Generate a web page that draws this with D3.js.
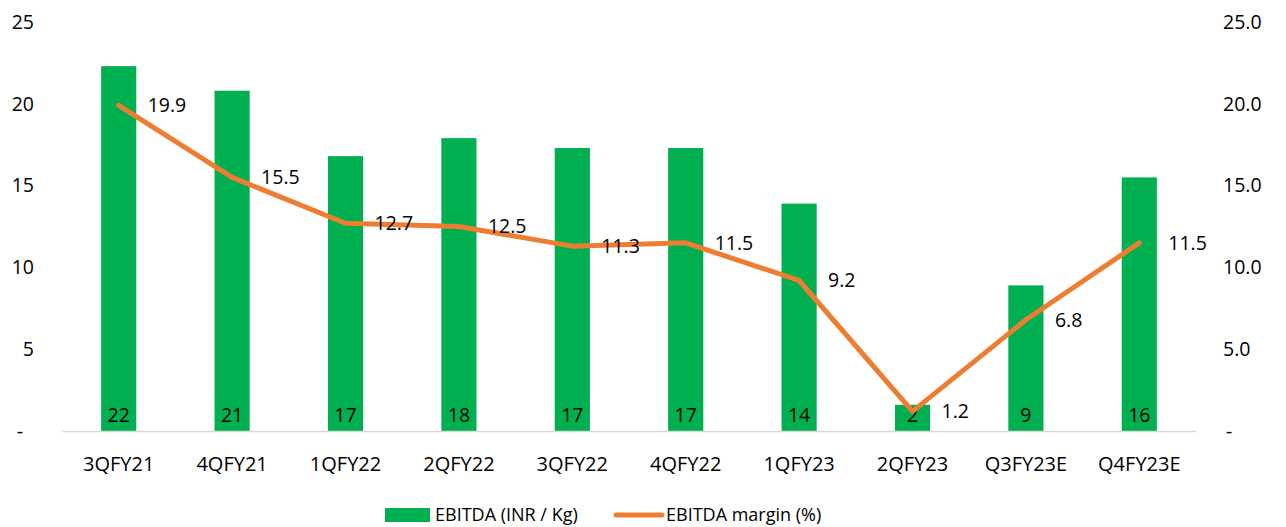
<!DOCTYPE html>
<html>
<head>
<meta charset="utf-8">
<script src="https://cdn.jsdelivr.net/npm/d3@7"></script>
<style>
  body { margin: 0; background: #fff; }
  text { font-family: "Open Sans", "Noto Sans", sans-serif; fill: #000; }
</style>
</head>
<body>
<div id="chart"></div>
<script>
const quarters = ["3QFY21", "4QFY21", "1QFY22", "2QFY22", "3QFY22", "4QFY22", "1QFY23", "2QFY23", "Q3FY23E", "Q4FY23E"];
const ebitda = [22.3, 20.8, 16.8, 17.9, 17.3, 17.3, 13.9, 1.6, 8.9, 15.5];
const margin = [19.9, 15.5, 12.7, 12.5, 11.3, 11.5, 9.2, 1.2, 6.8, 11.5];
const leftTicks = [0, 5, 10, 15, 20, 25];
const rightTicks = [0, 5, 10, 15, 20, 25];

const width = 1286, height = 527;
const plot = { left: 62, right: 1196, top: 22, bottom: 431 };
const fs = "19.5px";

const svg = d3.select("#chart").append("svg")
  .attr("width", width).attr("height", height);

// scales
const x = d3.scaleBand().domain(quarters).range([plot.left, plot.right]).paddingInner(0).paddingOuter(0);
const yL = d3.scaleLinear().domain([0, 25]).range([plot.bottom, plot.top]);
const yR = d3.scaleLinear().domain([0, 25]).range([plot.bottom, plot.top]);
const barW = x.bandwidth() * 0.31;
const cx = q => x(q) + x.bandwidth() / 2;

// left axis
const axL = svg.append("g").attr("transform", `translate(34,0)`)
  .call(d3.axisLeft(yL).tickValues(leftTicks).tickSize(0).tickPadding(0)
    .tickFormat(d => d === 0 ? "-" : d3.format("d")(d)));
axL.select(".domain").remove();
axL.selectAll("text").style("font-size", fs)
  .attr("dx", d => d === 0 ? -11 : 0);

// right axis
const axR = svg.append("g").attr("transform", `translate(1223,0)`)
  .call(d3.axisRight(yR).tickValues(rightTicks).tickSize(0).tickPadding(0)
    .tickFormat(d => d === 0 ? "-" : d3.format(".1f")(d)));
axR.select(".domain").remove();
axR.selectAll("text").style("font-size", fs)
  .attr("dx", d => d === 0 ? 3 : 0);

// bars
svg.append("g").selectAll("rect")
  .data(quarters.map((q, i) => ({ q, v: ebitda[i] })))
  .join("rect")
  .attr("x", d => cx(d.q) - barW / 2)
  .attr("y", d => yL(d.v))
  .attr("width", barW)
  .attr("height", d => yL(0) - yL(d.v))
  .attr("fill", "#00B050");

// baseline
svg.append("line")
  .attr("x1", plot.left).attr("x2", plot.right)
  .attr("y1", yL(0) + 0.5).attr("y2", yL(0) + 0.5)
  .attr("stroke", "#d9d9d9").attr("stroke-width", 1.5);

// bar labels
svg.append("g").selectAll("text")
  .data(quarters.map((q, i) => ({ q, v: ebitda[i] })))
  .join("text")
  .attr("x", d => cx(d.q))
  .attr("y", yL(0) - 9)
  .attr("text-anchor", "middle")
  .style("font-size", fs)
  .text(d => d3.format(".0f")(d.v));

// x labels
const axX = svg.append("g").attr("transform", `translate(0,${plot.bottom})`)
  .call(d3.axisBottom(x).tickSize(0).tickPadding(26));
axX.select(".domain").remove();
axX.selectAll("text").style("font-size", "20px");

// margin line
const line = d3.line().x((d, i) => cx(quarters[i])).y(d => yR(d));
svg.append("path")
  .datum(margin)
  .attr("d", line)
  .attr("fill", "none")
  .attr("stroke", "#ED7D31")
  .attr("stroke-width", 5)
  .attr("stroke-linejoin", "round")
  .attr("stroke-linecap", "round");

// line labels
svg.append("g").selectAll("text")
  .data(margin)
  .join("text")
  .attr("x", (d, i) => cx(quarters[i]) + 29)
  .attr("y", d => yR(d))
  .attr("dy", "0.35em")
  .style("font-size", fs)
  .text(d => d3.format(".1f")(d));

// legend
const lg = svg.append("g");
lg.append("rect").attr("x", 385).attr("y", 508).attr("width", 45).attr("height", 14).attr("fill", "#00B050");
lg.append("text").attr("x", 435).attr("y", 515).attr("dy", "0.35em").style("font-size", "18px").text("EBITDA (INR / Kg)");
lg.append("line").attr("x1", 616).attr("x2", 662).attr("y1", 515).attr("y2", 515)
  .attr("stroke", "#ED7D31").attr("stroke-width", 5).attr("stroke-linecap", "round");
lg.append("text").attr("x", 666).attr("y", 515).attr("dy", "0.35em").style("font-size", "18px").text("EBITDA margin (%)");
</script>
</body>
</html>
